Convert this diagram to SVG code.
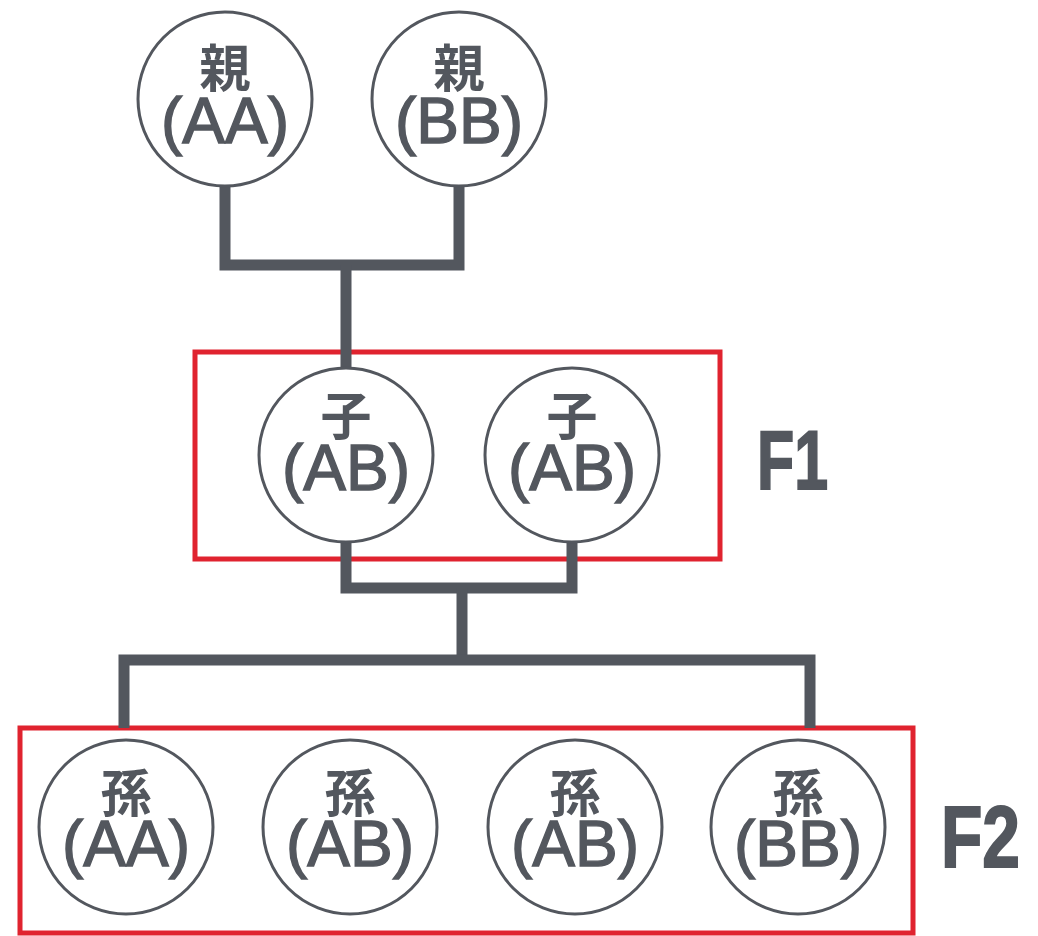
<svg xmlns="http://www.w3.org/2000/svg" width="1038" height="936" viewBox="0 0 1038 936">
<style>
.box{fill:none;stroke:#e0232f;stroke-width:5}
.conn{fill:none;stroke:#53575e;stroke-width:11;stroke-linejoin:miter;stroke-linecap:butt}
.node circle{fill:#fff;stroke:#53575e;stroke-width:3}
.kanji{font-family:"Noto Sans CJK JP","Noto Sans CJK SC",sans-serif;font-weight:700;font-size:51px;fill:#53575e;text-anchor:middle}
.lat{font-family:"Liberation Sans",Arial,sans-serif;font-size:64px;fill:#53575e;stroke:#53575e;stroke-width:1.4;text-anchor:middle}
.gen{font-family:"Liberation Sans",Arial,sans-serif;font-weight:bold;fill:#53575e;stroke:#53575e;stroke-width:2}
</style>
<rect width="1038" height="936" fill="#fff"/>
<g id="F1-box"><rect class="box" x="195" y="352" width="525" height="207"/></g>
<g id="F2-box"><rect class="box" x="20" y="728" width="893" height="205"/></g>
<g id="connectors">
<path class="conn" d="M225,186 V265 H459 V186"/>
<path class="conn" d="M346,265 V368"/>
<path class="conn" d="M346,542 V588 H572 V542"/>
<path class="conn" d="M462,588 V660"/>
<path class="conn" d="M124,728 V660 H810 V728"/>
</g>
<g id="parent-AA" class="node"><circle cx="225" cy="99" r="87"/><text class="kanji" x="225" y="87">親</text><text class="lat" x="225" y="143">(AA)</text></g>
<g id="parent-BB" class="node"><circle cx="459" cy="99" r="87"/><text class="kanji" x="459" y="87">親</text><text class="lat" x="459" y="143">(BB)</text></g>
<g id="child-1" class="node"><circle cx="346" cy="455" r="87"/><text class="kanji" x="346" y="435">子</text><text class="lat" x="346" y="490">(AB)</text></g>
<g id="child-2" class="node"><circle cx="572" cy="455" r="87"/><text class="kanji" x="572" y="435">子</text><text class="lat" x="572" y="490">(AB)</text></g>
<g id="grand-1" class="node"><circle cx="126" cy="827" r="87"/><text class="kanji" x="126" y="812">孫</text><text class="lat" x="126" y="866">(AA)</text></g>
<g id="grand-2" class="node"><circle cx="350" cy="827" r="87"/><text class="kanji" x="350" y="812">孫</text><text class="lat" x="350" y="866">(AB)</text></g>
<g id="grand-3" class="node"><circle cx="575" cy="827" r="87"/><text class="kanji" x="575" y="812">孫</text><text class="lat" x="575" y="866">(AB)</text></g>
<g id="grand-4" class="node"><circle cx="798" cy="827" r="87"/><text class="kanji" x="798" y="812">孫</text><text class="lat" x="798" y="866">(BB)</text></g>
<g id="label-F1"><text class="gen" x="757" y="489" font-size="84" textLength="71" lengthAdjust="spacingAndGlyphs">F1</text></g>
<g id="label-F2"><text class="gen" x="941" y="867" font-size="88" textLength="79" lengthAdjust="spacingAndGlyphs">F2</text></g>
</svg>
